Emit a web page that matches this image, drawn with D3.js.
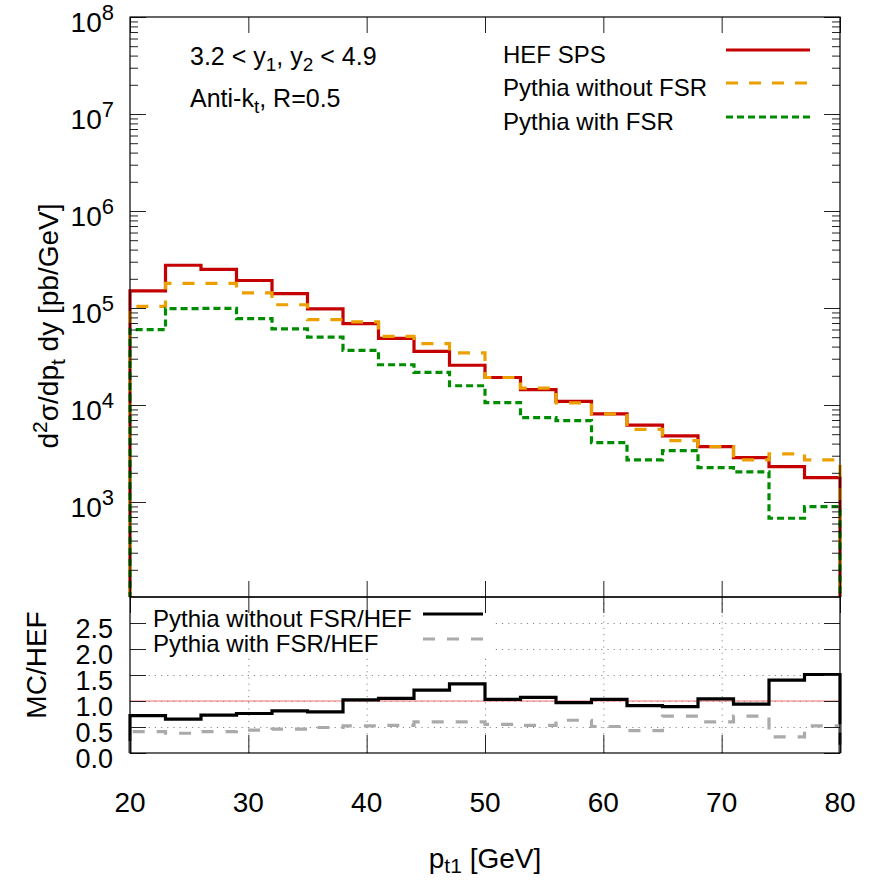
<!DOCTYPE html>
<html lang="en">
<head>
<meta charset="UTF-8">
<title>HEF SPS vs Pythia</title>
<style>
    body { margin: 0; background: #fff; }
    text { font-family: "Liberation Sans", Arial, sans-serif; fill: #000; }
</style>
</head>
<body>
<script src="https://d3js.org/d3.v7.min.js"></script>
<script>
    // bin edges in p_t1 [GeV]
    const edges = [20, 23, 26, 29, 32, 35, 38, 41, 44, 47, 50, 53, 56, 59, 62, 65, 68, 71, 74, 77, 80];
    // d2sigma/dpt dy [pb/GeV], one value per bin
    const hefSps = [1.50e5, 2.76e5, 2.50e5, 1.92e5, 1.41e5, 9.8e4, 6.9e4, 4.86e4, 3.57e4, 2.57e4,
                    1.92e4, 1.44e4, 1.09e4, 8.1e3, 6.2e3, 4.8e3, 3.73e3, 2.87e3, 2.32e3, 1.78e3];
    const pythiaNoFsr = [1.04e5, 1.79e5, 1.79e5, 1.43e5, 1.08e5, 7.6e4, 7.2e4, 5.1e4, 4.3e4, 3.44e4,
                         1.92e4, 1.49e4, 1.05e4, 8.1e3, 5.6e3, 4.3e3, 3.73e3, 2.72e3, 3.13e3, 2.72e3];
    const pythiaFsr = [5.98e4, 9.87e4, 9.9e4, 7.76e4, 6.1e4, 5.0e4, 3.66e4, 2.6e4, 2.17e4, 1.58e4,
                       1.06e4, 7.4e3, 6.9e3, 4.1e3, 2.72e3, 3.39e3, 2.26e3, 2.04e3, 680, 895];
    // ratios MC/HEF
    const ratioNoFsr = [0.72, 0.65, 0.73, 0.76, 0.81, 0.79, 1.02, 1.05, 1.21, 1.33,
                        1.03, 1.07, 0.97, 1.03, 0.91, 0.89, 1.04, 0.94, 1.40, 1.51];
    const ratioFsr = [0.41, 0.38, 0.41, 0.44, 0.46, 0.49, 0.52, 0.53, 0.60, 0.60,
                      0.55, 0.53, 0.63, 0.51, 0.43, 0.71, 0.60, 0.71, 0.31, 0.52];
    // ticks
    const xTicks = [20, 30, 40, 50, 60, 70, 80];
    const yExps = [3, 4, 5, 6, 7, 8];
    const rTicks = [0, 0.5, 1.0, 1.5, 2.0, 2.5];
    const rGrid = [0.5, 1.0, 1.5, 2.0, 2.5];

    const W = 870, H = 880;
    const left = 130, right = 840;
    const top1 = 17, bot1 = 597, top2 = 597, bot2 = 753;

    const svg = d3.select("body").append("svg")
        .attr("width", W).attr("height", H);
    svg.append("rect").attr("width", W).attr("height", H).attr("fill", "#fff");

    const x = d3.scaleLinear().domain([20, 80]).range([left, right]);
    const y = d3.scaleLog().domain([100, 1e8]).range([bot1 + 2, top1]);
    const r = d3.scaleLinear().domain([0, 3]).range([bot2, top2]);

    function stepPoints(vals, base) {
        const pts = [{x: edges[0], v: base}];
        vals.forEach((v, i) => pts.push({x: edges[i], v: v}));
        pts.push({x: edges[edges.length - 1], v: vals[vals.length - 1]});
        pts.push({x: edges[edges.length - 1], v: base});
        return pts;
    }

    // ---------- upper panel ----------
    svg.append("clipPath").attr("id", "clip1").append("rect")
        .attr("x", left - 3).attr("y", top1).attr("width", right - left + 6).attr("height", bot1 - top1);

    const line1 = d3.line().x(d => x(d.x)).y(d => y(d.v)).curve(d3.curveStepAfter);
    const upper = svg.append("g").attr("clip-path", "url(#clip1)");
    const series = [
        {vals: hefSps, color: "#c40000", dash: null, w: 3.2},
        {vals: pythiaNoFsr, color: "#eba000", dash: "12,11", w: 3.2},
        {vals: pythiaFsr, color: "#008c00", dash: "7,4", w: 3.2}
    ];
    series.forEach(s => {
        upper.append("path")
            .datum(stepPoints(s.vals, 100))
            .attr("fill", "none")
            .attr("stroke", s.color)
            .attr("stroke-width", s.w)
            .attr("stroke-dasharray", s.dash)
            .attr("d", line1);
    });

    // y ticks (log) left and right
    const minor = y.ticks().filter(v => v > 100 && v < 1e8 && Math.abs(Math.log10(v) % 1) > 1e-6);
    const major = yExps.map(e => Math.pow(10, e));
    function yAxes(g, vals, len) {
        g.append("g").attr("transform", `translate(${left},0)`)
            .call(d3.axisLeft(y).tickValues(vals).tickSize(-len).tickFormat(""));
        g.append("g").attr("transform", `translate(${right},0)`)
            .call(d3.axisRight(y).tickValues(vals).tickSize(-len).tickFormat(""));
    }
    const tk1 = svg.append("g").attr("class", "ticks");
    yAxes(tk1, minor, 8);
    yAxes(tk1, major, 16);
    tk1.append("g").attr("transform", `translate(0,${bot1})`)
        .call(d3.axisBottom(x).tickValues(xTicks).tickSize(-16).tickFormat(""));
    tk1.append("g").attr("transform", `translate(0,${top1})`)
        .call(d3.axisTop(x).tickValues(xTicks).tickSize(-16).tickFormat(""));
    tk1.selectAll(".domain").remove();
    tk1.selectAll("line").attr("stroke", "#222").attr("stroke-width", 1);

    // y tick labels 10^n
    yExps.forEach(e => {
        const t = svg.append("text")
            .attr("x", 114).attr("y", y(Math.pow(10, e)) + 15)
            .attr("text-anchor", "end")
            .attr("font-size", 28);
        t.append("tspan").text("10");
        t.append("tspan").attr("dy", -12).attr("font-size", 22).text(e);
    });

    svg.append("rect").attr("x", left).attr("y", top1)
        .attr("width", right - left).attr("height", bot1 - top1)
        .attr("fill", "none").attr("stroke", "#000").attr("stroke-width", 1.2);

    // annotation
    const a1 = svg.append("text").attr("x", 190).attr("y", 65).attr("font-size", 25);
    a1.append("tspan").text("3.2 < y");
    a1.append("tspan").attr("dy", 6).attr("font-size", 19).text("1");
    a1.append("tspan").attr("dy", -6).text(", y");
    a1.append("tspan").attr("dy", 6).attr("font-size", 19).text("2");
    a1.append("tspan").attr("dy", -6).text(" < 4.9");
    const a2 = svg.append("text").attr("x", 190).attr("y", 107).attr("font-size", 25);
    a2.append("tspan").text("Anti-k");
    a2.append("tspan").attr("dy", 6).attr("font-size", 19).text("t");
    a2.append("tspan").attr("dy", -6).text(", R=0.5");

    // legend upper
    const leg1 = [
        {name: "HEF SPS", s: series[0], y: 50},
        {name: "Pythia without FSR", s: series[1], y: 83},
        {name: "Pythia with FSR", s: series[2], y: 117}
    ];
    leg1.forEach(l => {
        svg.append("text").attr("x", 503).attr("y", l.y + 13).attr("font-size", 24).text(l.name);
        svg.append("line").attr("x1", 726).attr("x2", 810).attr("y1", l.y).attr("y2", l.y)
            .attr("stroke", l.s.color).attr("stroke-width", l.s.w)
            .attr("stroke-dasharray", l.s.dash);
    });

    // y label
    const yl = svg.append("text")
        .attr("transform", `translate(58,326) rotate(-90)`)
        .attr("text-anchor", "middle").attr("font-size", 28);
    yl.append("tspan").text("d");
    yl.append("tspan").attr("dy", -11).attr("font-size", 21).text("2");
    yl.append("tspan").attr("dy", 11).text("σ/dp");
    yl.append("tspan").attr("dy", 7).attr("font-size", 21).text("t");
    yl.append("tspan").attr("dy", -7).text(" dy [pb/GeV]");

    // ---------- lower panel ----------
    const grid = svg.append("g");
    grid.append("g").attr("transform", `translate(${left},0)`)
        .call(d3.axisLeft(r).tickValues(rGrid).tickSize(-(right - left)).tickFormat(""));
    grid.append("g").attr("transform", `translate(0,${bot2})`)
        .call(d3.axisBottom(x).tickValues([30, 40, 50, 60, 70]).tickSize(-(bot2 - top2)).tickFormat(""));
    grid.selectAll(".domain").remove();
    grid.selectAll("line").attr("stroke", "#8a8a8a").attr("stroke-width", 1).attr("stroke-dasharray", "1.2,5");

    // legend box (opaque)
    svg.append("rect").attr("x", left + 1).attr("y", top2 + 1).attr("width", 362).attr("height", 57).attr("fill", "#fff");

    svg.append("line").attr("x1", left).attr("x2", right).attr("y1", r(1)).attr("y2", r(1))
        .attr("stroke", "#f07070").attr("stroke-width", 1.2);

    svg.append("clipPath").attr("id", "clip2").append("rect")
        .attr("x", left - 3).attr("y", top2).attr("width", right - left + 6).attr("height", bot2 - top2);
    const line2 = d3.line().x(d => x(d.x)).y(d => r(d.v)).curve(d3.curveStepAfter);
    const lower = svg.append("g").attr("clip-path", "url(#clip2)");
    const rSeries = [
        {vals: ratioNoFsr, color: "#000", dash: null, w: 3.2, name: "Pythia without FSR/HEF", ly: 614},
        {vals: ratioFsr, color: "#aaaaaa", dash: "12,12", w: 3.2, name: "Pythia with FSR/HEF", ly: 639}
    ];
    rSeries.forEach(s => {
        lower.append("path")
            .datum(stepPoints(s.vals, 0))
            .attr("fill", "none")
            .attr("stroke", s.color)
            .attr("stroke-width", s.w)
            .attr("stroke-dasharray", s.dash)
            .attr("d", line2);
        svg.append("text").attr("x", 153).attr("y", s.ly + 13).attr("font-size", 24).text(s.name);
        svg.append("line").attr("x1", 423).attr("x2", 483).attr("y1", s.ly).attr("y2", s.ly)
            .attr("stroke", s.color).attr("stroke-width", s.w).attr("stroke-dasharray", s.dash);
    });

    const tk2 = svg.append("g");
    tk2.append("g").attr("transform", `translate(${left},0)`)
        .call(d3.axisLeft(r).tickValues(rTicks).tickSize(-16).tickFormat(""));
    tk2.append("g").attr("transform", `translate(${right},0)`)
        .call(d3.axisRight(r).tickValues(rTicks).tickSize(-16).tickFormat(""));
    tk2.append("g").attr("transform", `translate(0,${bot2})`)
        .call(d3.axisBottom(x).tickValues(xTicks).tickSize(-18).tickFormat(""));
    tk2.append("g").attr("transform", `translate(0,${top2})`)
        .call(d3.axisTop(x).tickValues(xTicks).tickSize(-16).tickFormat(""));
    tk2.selectAll(".domain").remove();
    tk2.selectAll("line").attr("stroke", "#222").attr("stroke-width", 1);

    svg.append("rect").attr("x", left).attr("y", top2)
        .attr("width", right - left).attr("height", bot2 - top2)
        .attr("fill", "none").attr("stroke", "#000").attr("stroke-width", 1.2);

    rTicks.forEach(v => {
        svg.append("text").attr("x", 113).attr("y", r(v) + 15)
            .attr("text-anchor", "end").attr("font-size", 27).text(v.toFixed(1));
    });
    xTicks.forEach(v => {
        svg.append("text").attr("x", x(v)).attr("y", 812)
            .attr("text-anchor", "middle").attr("font-size", 28).text(v);
    });

    svg.append("text")
        .attr("transform", `translate(46,665) rotate(-90)`)
        .attr("text-anchor", "middle").attr("font-size", 28).text("MC/HEF");

    const xl = svg.append("text").attr("x", 485).attr("y", 868)
        .attr("text-anchor", "middle").attr("font-size", 28);
    xl.append("tspan").text("p");
    xl.append("tspan").attr("dy", 5).attr("font-size", 21).text("t1");
    xl.append("tspan").attr("dy", -5).text(" [GeV]");
</script>
</body>
</html>
